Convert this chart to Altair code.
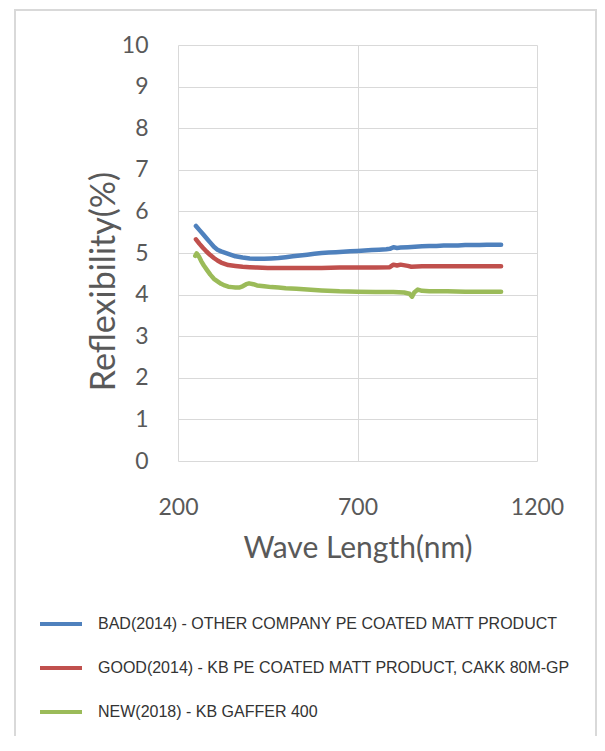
import altair as alt
import pandas as pd

series_names = [
    "BAD(2014) - OTHER COMPANY PE COATED MATT PRODUCT",
    "GOOD(2014) - KB PE COATED MATT PRODUCT, CAKK 80M-GP",
    "NEW(2018) - KB GAFFER 400",
]
series_colors = ["#4F81BD", "#C0504D", "#9BBB59"]

bad_nm = [250, 260, 270, 280, 290, 300, 310, 320, 330, 340, 350, 360, 380, 400, 420, 440, 460, 480,
          500, 520, 540, 560, 580, 600, 620, 640, 660, 680, 700, 720, 740, 760, 780, 790, 800, 810,
          820, 840, 860, 880, 900, 920, 940, 960, 980, 1000, 1020, 1040, 1060, 1080, 1100]
bad_val = [5.65, 5.55, 5.45, 5.35, 5.25, 5.15, 5.08, 5.04, 5.01, 4.98, 4.95, 4.92, 4.89, 4.87, 4.86,
           4.86, 4.87, 4.88, 4.90, 4.92, 4.94, 4.96, 4.98, 5.00, 5.01, 5.02, 5.03, 5.04, 5.05, 5.06,
           5.07, 5.08, 5.09, 5.10, 5.14, 5.12, 5.13, 5.14, 5.15, 5.16, 5.17, 5.17, 5.18, 5.18, 5.18,
           5.19, 5.19, 5.19, 5.20, 5.20, 5.20]

good_nm = [250, 260, 270, 280, 290, 300, 310, 320, 330, 340, 360, 380, 400, 420, 450, 500, 550, 600,
           650, 700, 750, 790, 800, 810, 820, 840, 850, 880, 900, 950, 1000, 1050, 1100]
good_val = [5.33, 5.22, 5.12, 5.03, 4.95, 4.88, 4.82, 4.77, 4.74, 4.71, 4.69, 4.67, 4.66, 4.65, 4.64,
            4.64, 4.64, 4.64, 4.65, 4.65, 4.65, 4.66, 4.72, 4.70, 4.72, 4.69, 4.67, 4.68, 4.68, 4.68,
            4.68, 4.68, 4.68]

new_nm = [248, 252, 258, 265, 272, 280, 290, 300, 310, 320, 330, 340, 350, 360, 370, 380, 390, 398,
          410, 420, 440, 460, 480, 500, 530, 560, 600, 650, 700, 750, 800, 830, 845, 852, 858, 868,
          880, 900, 950, 1000, 1050, 1100]
new_val = [4.93, 4.99, 4.92, 4.80, 4.70, 4.60, 4.48, 4.38, 4.32, 4.26, 4.22, 4.19, 4.18, 4.17, 4.17,
           4.20, 4.25, 4.27, 4.25, 4.22, 4.20, 4.18, 4.17, 4.15, 4.14, 4.12, 4.10, 4.08, 4.07, 4.06,
           4.06, 4.05, 4.02, 3.95, 4.05, 4.12, 4.09, 4.08, 4.08, 4.07, 4.07, 4.07]

x_ticks = [200, 700, 1200]
y_ticks = [0, 1, 2, 3, 4, 5, 6, 7, 8, 9, 10]

rows = []
for name, xs, ys in zip(series_names, [bad_nm, good_nm, new_nm], [bad_val, good_val, new_val]):
    for i, (a, b) in enumerate(zip(xs, ys)):
        rows.append({"series": name, "nm": a, "val": b, "idx": i})
df = pd.DataFrame(rows)

axis_font = "Lato"
legend_font = "Liberation Sans"

frame = alt.Chart(pd.DataFrame({"f": [0]})).mark_rect(
    fill="transparent", stroke="#d9d9d9", strokeWidth=2
).encode(
    x=alt.value(-163), x2=alt.value(418), y=alt.value(-35), y2=alt.value(700)
)

lines = alt.Chart(df).mark_line(strokeWidth=4.5, strokeCap="round", strokeJoin="round").encode(
    x=alt.X(
        "nm:Q",
        scale=alt.Scale(domain=[200, 1200], nice=False),
        axis=alt.Axis(
            values=x_ticks, format="d", title="Wave Length(nm)", grid=True, gridColor="#d9d9d9",
            domain=False, ticks=False, labelPadding=35, labelFontSize=23, labelColor="#595959",
            labelFlush=False, labelFont=axis_font, titleFont=axis_font, titleFontSize=30,
            titleColor="#595959", titleFontWeight="normal", titleY=87, titleBaseline="middle",
        ),
    ),
    y=alt.Y(
        "val:Q",
        scale=alt.Scale(domain=[0, 10], nice=False),
        axis=alt.Axis(
            values=y_ticks, format="d", title="Reflexibility(%)", grid=True, gridColor="#d9d9d9",
            domain=False, ticks=False, labelPadding=30, labelFontSize=23, labelColor="#595959",
            labelFlush=False, labelFont=axis_font, titleFont=axis_font, titleFontSize=34,
            titleColor="#595959", titleFontWeight="normal", titleX=-74, titleY=236,
            titleAngle=270, titleBaseline="middle", titleAlign="center",
        ),
    ),
    color=alt.Color(
        "series:N",
        scale=alt.Scale(domain=series_names, range=series_colors),
        legend=alt.Legend(
            orient="none", legendX=-140, legendY=556, title=None, symbolType="stroke",
            symbolSize=1764, symbolStrokeWidth=4, labelFont=legend_font, labelFontSize=16,
            labelColor="#333333", rowPadding=13, labelOffset=14, labelLimit=600,
            direction="vertical",
        ),
    ),
    order="idx:Q",
)

chart = alt.layer(frame, lines).properties(
    width=359,
    height=416,
    padding={"left": 170, "top": 37, "right": 60, "bottom": 275},
    autosize=alt.AutoSizeParams(type="none"),
).configure_view(stroke=None)

chart.save("out.html", embed_options={"renderer": "svg", "actions": False})
